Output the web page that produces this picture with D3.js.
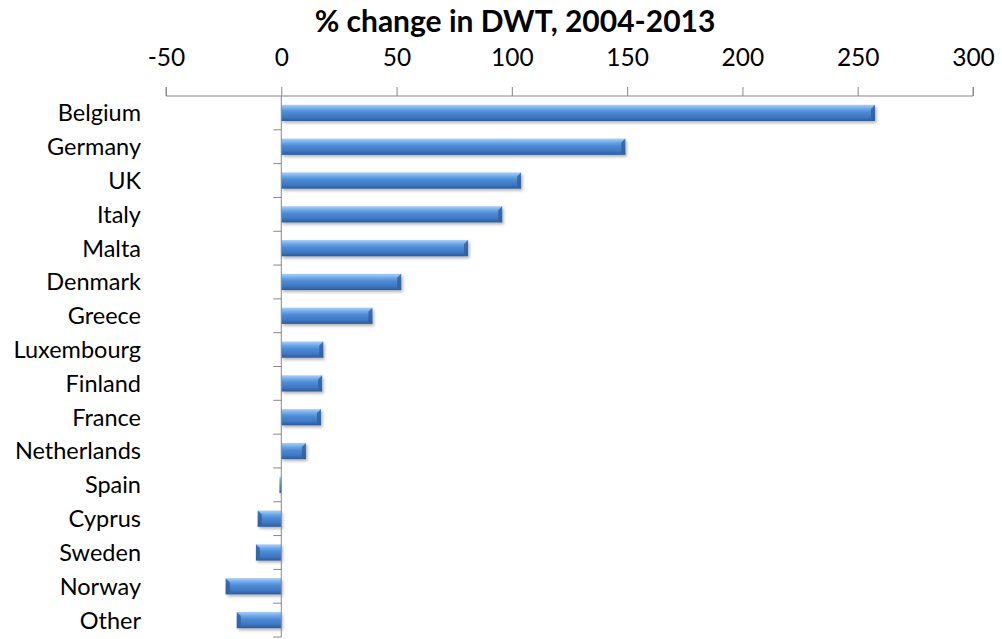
<!DOCTYPE html>
<html><head><meta charset="utf-8">
<script src="https://cdn.jsdelivr.net/npm/d3@7"></script>
<style>body{margin:0;background:#fff}svg{display:block}text{font-family:Lato,"Open Sans",sans-serif}</style>
</head><body><div id="chart"></div>
<script>
const title = "% change in DWT, 2004-2013";
const categories = ["Belgium","Germany","UK","Italy","Malta","Denmark","Greece","Luxembourg","Finland","France","Netherlands","Spain","Cyprus","Sweden","Norway","Other"];
const values = [257.5,149.2,104,95.8,81,52,39.5,18.2,17.7,17.2,10.7,-0.8,-10.2,-11,-24.1,-19.3];
const xTicks = [-50,0,50,100,150,200,250,300];

const W=1002,H=639;
const svg=d3.select("#chart").append("svg").attr("width",W).attr("height",H);
const defs=svg.append("defs");
const g=defs.append("linearGradient").attr("id","barg").attr("x1",0).attr("y1",0).attr("x2",0).attr("y2",1);
[[0,"#a9cdf5"],[0.12,"#8cbcf0"],[0.25,"#6aa6e8"],[0.45,"#4d8ad6"],[0.75,"#3f78c4"],[1,"#2c5b99"]].forEach(s=>g.append("stop").attr("offset",s[0]).attr("stop-color",s[1]));
const f=defs.append("filter").attr("id","sh").attr("x","-10%").attr("y","-30%").attr("width","130%").attr("height","180%");
f.append("feDropShadow").attr("dx",1.5).attr("dy",2).attr("stdDeviation",1.5).attr("flood-color","#000").attr("flood-opacity",0.3);

const x=d3.scaleLinear().domain([-50,300]).range([166,973]);
const y=d3.scaleBand().domain(categories).range([96,637]).paddingInner(0.52).paddingOuter(0.26);

svg.append("text").attr("x",515).attr("y",32).attr("text-anchor","middle")
  .style("font-weight","bold").style("font-size","30px").text(title);

// top axis
const xa=svg.append("g").attr("transform","translate(0,96)")
  .call(d3.axisTop(x).tickValues(xTicks).tickSize(9).tickPadding(21).tickFormat(d=>String(d)));
xa.attr("font-size",null).attr("font-family",null);
xa.select(".domain").attr("stroke","#888").attr("d",`M${x(-50)},-9V0H${x(300)}V-9`);
xa.selectAll(".tick line").attr("stroke","#888");
xa.selectAll(".tick text").style("font-size","24.5px").attr("fill","#000");

// bars
const bars=svg.append("g");
bars.selectAll("rect").data(values).join("rect")
  .attr("x",d=>x(Math.min(0,d))).attr("width",d=>Math.max(1.5,Math.abs(x(d)-x(0))))
  .attr("y",(d,i)=>y(categories[i])).attr("height",y.bandwidth())
  .attr("fill","url(#barg)").attr("filter","url(#sh)");
// bevel end caps
bars.selectAll("path.cap").data(values).join("path").attr("class","cap")
  .attr("d",(d,i)=>{const y0=y(categories[i]),h=y.bandwidth();const e=x(d);const s=d>=0?-1:1;
    if(Math.abs(x(d)-x(0))<6) return "";
    return `M${e},${y0}L${e+s*4},${y0+4}L${e+s*4},${y0+h-3}L${e},${y0+h}Z`;})
  .attr("fill","#2f5f9e").attr("opacity",0.8);

// category axis
const step=y.step();
const ya=svg.append("g");
ya.append("line").attr("x1",x(0)).attr("x2",x(0)).attr("y1",96).attr("y2",637).attr("stroke","#888");
const bounds=categories.map(c=>y(c)-y.paddingInner()*step/2+step);
ya.selectAll("line.t").data(bounds).join("line").attr("class","t")
  .attr("x1",x(0)-8).attr("x2",x(0)).attr("y1",d=>d).attr("y2",d=>d).attr("stroke","#888");
ya.selectAll("text").data(categories).join("text")
  .attr("x",141).attr("y",d=>y(d)+y.bandwidth()/2).attr("dy","0.36em").attr("text-anchor","end")
  .style("font-size","23.5px").text(d=>d);
</script></body></html>
